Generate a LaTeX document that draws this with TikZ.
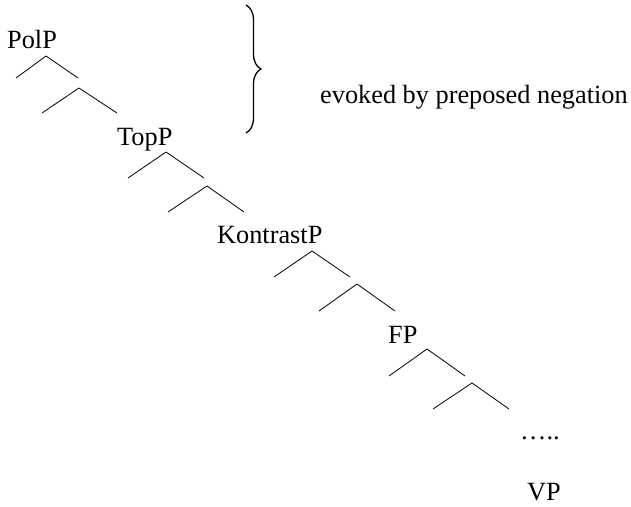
\documentclass[tikz,border=0pt]{standalone}
\usepackage{fontspec}
\setmainfont{Liberation Serif}
\usetikzlibrary{decorations.pathreplacing}
\begin{document}
\begin{tikzpicture}[x=1pt,y=-1pt,
  lbl/.style={anchor=base west,inner sep=0pt,font=\fontsize{26.3}{30}\selectfont},
  branch/.style={line width=0.8pt},
  bracestyle/.style={line width=1.3pt,decorate,decoration={brace,amplitude=15pt}}]
\useasboundingbox (0,0) rectangle (631,506);
% labels
\node[lbl] (pol) at (7,48) {PolP};
\node[lbl] (top) at (117,145) {TopP};
\node[lbl] (kon) at (217,243) {KontrastP};
\node[lbl] (fp) at (388,343) {FP};
\node[lbl] (ev) at (320,103) {evoked by preposed negation};
\node[lbl] (dots) at (520,439) {…..};
\node[lbl] (vp) at (527,500) {VP};
% PolP
\coordinate (a1) at (46,56); \coordinate (a1l) at (16,78); \coordinate (a1r) at (78,78);
\coordinate (a2) at (79,88); \coordinate (a2l) at (42,113); \coordinate (a2r) at (117,113);
\draw[branch] (a1l) -- (a1) -- (a1r);
\draw[branch] (a2l) -- (a2) -- (a2r);
% TopP
\coordinate (b1) at (166,152); \coordinate (b1l) at (128,178); \coordinate (b1r) at (204,178);
\coordinate (b2) at (207,186); \coordinate (b2l) at (168,212); \coordinate (b2r) at (244,212);
\draw[branch] (b1l) -- (b1) -- (b1r);
\draw[branch] (b2l) -- (b2) -- (b2r);
% KontrastP
\coordinate (c1) at (312,251); \coordinate (c1l) at (274,277); \coordinate (c1r) at (350,277);
\coordinate (c2) at (357,284); \coordinate (c2l) at (319,311); \coordinate (c2r) at (395,311);
\draw[branch] (c1l) -- (c1) -- (c1r);
\draw[branch] (c2l) -- (c2) -- (c2r);
% FP
\coordinate (d1) at (427,349); \coordinate (d1l) at (389,376); \coordinate (d1r) at (465,376);
\coordinate (d2) at (472,383); \coordinate (d2l) at (433,409); \coordinate (d2r) at (509,409);
\draw[branch] (d1l) -- (d1) -- (d1r);
\draw[branch] (d2l) -- (d2) -- (d2r);
% brace
\coordinate (bt) at (246,5); \coordinate (bb) at (246,133);
\draw[bracestyle] (bt) -- (bb);
\end{tikzpicture}
\end{document}
